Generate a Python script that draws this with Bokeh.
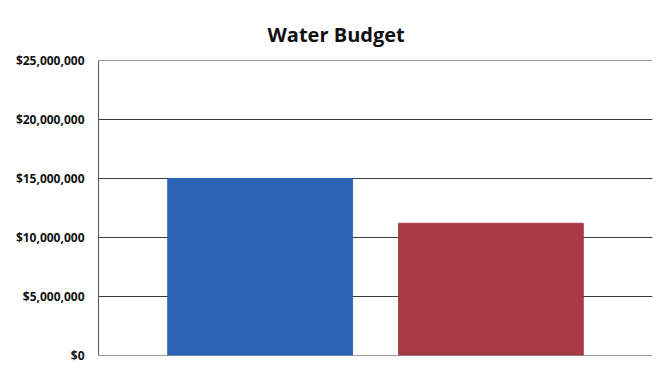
from bokeh.plotting import figure
from bokeh.models import NumeralTickFormatter, Range1d, FixedTicker, ColumnDataSource
from bokeh.embed import file_html
from bokeh.resources import INLINE

categories = ["Revenue", "Expenses"]
values = [15000000, 11200000]
colors = ["#2C63B6", "#A83A45"]
y_ticks = [0, 5000000, 10000000, 15000000, 20000000, 25000000]
x_pos = [1, 2]

src = ColumnDataSource(dict(x=x_pos, top=values, color=colors, cat=categories))

p = figure(width=660, height=369, output_backend="svg", toolbar_location=None,
           x_range=Range1d(0.3, 2.7), y_range=Range1d(-25000, 25025000),
           min_border_left=98, min_border_right=8, min_border_top=60, min_border_bottom=14,
           title="Water Budget")

p.vbar(x="x", top="top", width=0.8, color="color", source=src)

p.title.align = "left"
p.title.offset = 169
p.title.standoff = 25
p.title.text_font = "Open Sans"
p.title.text_font_style = "bold"
p.title.text_font_size = "20px"
p.title.text_color = "#111111"

p.xaxis.visible = False
p.xgrid.visible = False
p.yaxis.ticker = FixedTicker(ticks=y_ticks)
p.yaxis.formatter = NumeralTickFormatter(format="$0,0")
p.yaxis.major_label_text_font = "Open Sans"
p.yaxis.major_label_text_font_style = "bold"
p.yaxis.major_label_text_font_size = "12px"
p.yaxis.major_label_text_color = "#111111"
p.yaxis.major_tick_out = 0
p.yaxis.major_tick_in = 0
p.yaxis.minor_tick_out = 0
p.yaxis.minor_tick_in = 0
p.yaxis.major_label_standoff = 14
p.yaxis.axis_line_color = "#555555"
p.ygrid.ticker = FixedTicker(ticks=y_ticks)
p.ygrid.grid_line_color = "#3a3a3a"
p.ygrid.grid_line_width = 1
p.outline_line_color = None
p.background_fill_color = "white"
p.border_fill_color = "white"

open("out.html", "w").write(file_html(p, INLINE))
